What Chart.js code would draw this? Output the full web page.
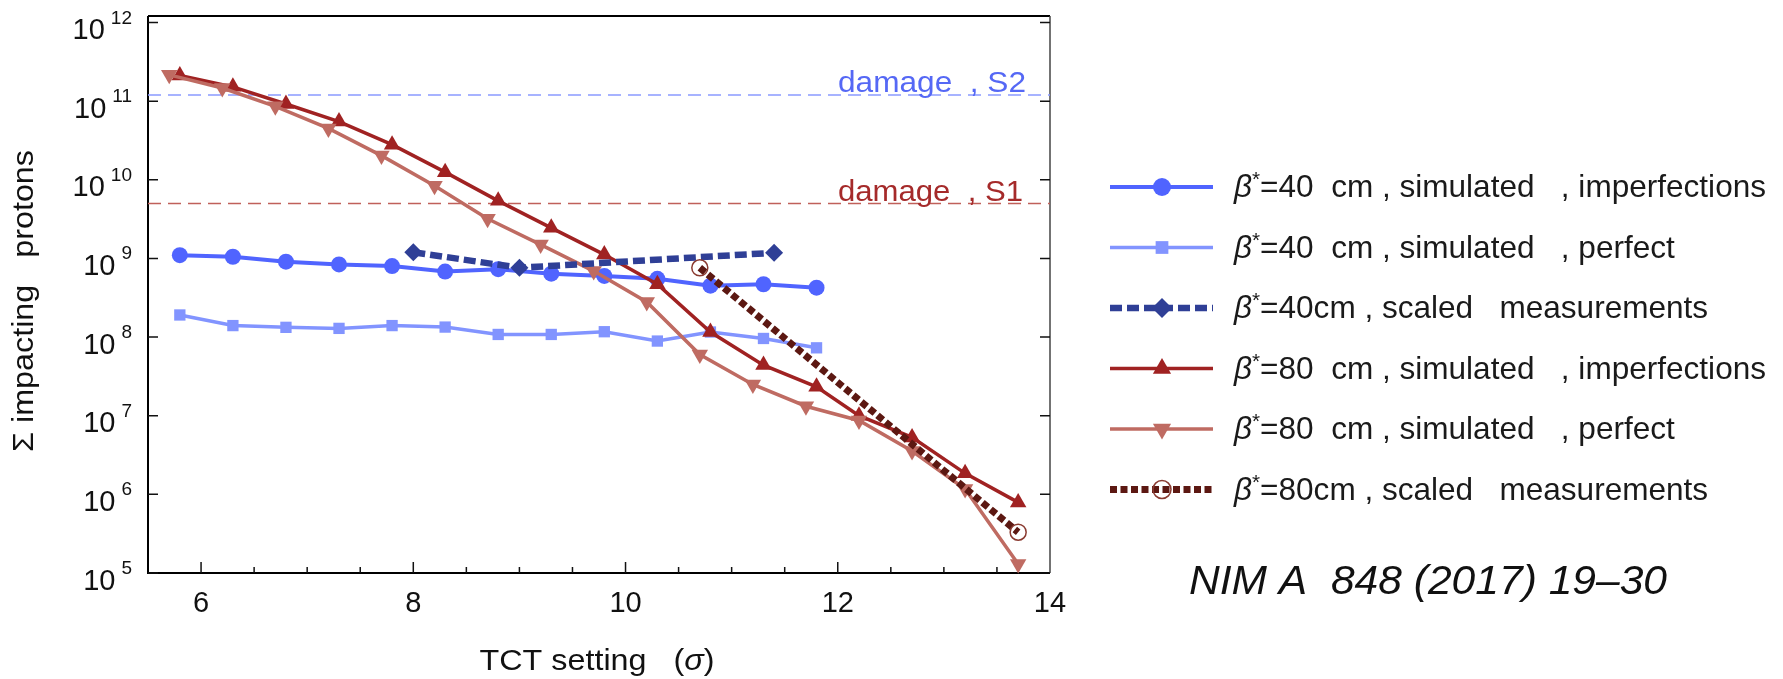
<!DOCTYPE html>
<html>
<head>
<meta charset="utf-8">
<script src="https://cdn.jsdelivr.net/npm/chart.js@4.4.1/dist/chart.umd.min.js"></script>
<style>
  html, body { margin: 0; padding: 0; background: #fff; }
</style>
</head>
<body>
<canvas id="chartTct" width="1783" height="679"></canvas>
<script>
/* global Chart */

// dados (eixo x = TCT setting em sigma)
const xSim40 = [5.8, 6.3, 6.8, 7.3, 7.8, 8.3, 8.8, 9.3, 9.8, 10.3, 10.8, 11.3, 11.8];
const b40Imperf = [1.10e9, 1.05e9, 9.1e8, 8.4e8, 8.0e8, 6.8e8, 7.3e8, 6.4e8, 6.0e8, 5.5e8, 4.5e8, 4.7e8, 4.25e8];
const b40Perfect = [1.91e8, 1.40e8, 1.33e8, 1.29e8, 1.40e8, 1.34e8, 1.08e8, 1.08e8, 1.17e8, 8.9e7, 1.16e8, 9.6e7, 7.3e7];

const xMeas40 = [8.0, 9.0, 11.4];
const meas40 = [1.2e9, 7.6e8, 1.18e9];

const xSim80i = [5.8, 6.3, 6.8, 7.3, 7.8, 8.3, 8.8, 9.3, 9.8, 10.3, 10.8, 11.3, 11.8, 12.2, 12.7, 13.2, 13.7];
const b80Imperf = [2.12e11, 1.52e11, 9.2e10, 5.5e10, 2.8e10, 1.25e10, 5.4e9, 2.45e9, 1.12e9, 4.7e8, 1.16e8, 4.4e7, 2.33e7, 1.0e7, 5.3e6, 1.85e6, 7.9e5];

const xSim80p = [5.7, 6.2, 6.7, 7.2, 7.7, 8.2, 8.7, 9.2, 9.7, 10.2, 10.7, 11.2, 11.7, 12.2, 12.7, 13.2, 13.7];
const b80Perfect = [2.16e11, 1.47e11, 8.6e10, 4.5e10, 2.03e10, 8.4e9, 3.2e9, 1.5e9, 6.9e8, 2.8e8, 6.0e7, 2.5e7, 1.32e7, 8.7e6, 3.55e6, 1.17e6, 1.3e5];

const xMeas80 = [10.7, 13.7];
const meas80 = [7.6e8, 3.3e5];

const damageS2 = 1.2e11;
const damageS1 = 5.0e9;

const xTicks = [6, 8, 10, 12, 14];
const yExpoentes = [5, 6, 7, 8, 9, 10, 11, 12];

const legendaBeta = ["40", "40", "40", "80", "80", "80"];
const legendaResto = [
  "  cm , simulated   , imperfections",
  "  cm , simulated   , perfect",
  "cm , scaled   measurements",
  "  cm , simulated   , imperfections",
  "  cm , simulated   , perfect",
  "cm , scaled   measurements"
];

const FONTE = "'Liberation Sans', Arial, sans-serif";

function pares(xs, ys) {
  return xs.map(function (x, i) { return { x: x, y: ys[i] }; });
}

function textoAjustado(ctx, partes, x, y, largura, align) {
  // desenha pedaços de texto e comprime/estica para caber na largura
  var total = 0;
  partes.forEach(function (p) {
    ctx.font = p.font;
    p.w = ctx.measureText(p.t).width + (p.gap || 0);
    total += p.w;
  });
  var k = largura ? largura / total : 1;
  ctx.save();
  ctx.translate(x - (align === "center" ? largura / 2 : 0), y);
  ctx.scale(k, 1);
  ctx.textAlign = "left";
  ctx.textBaseline = "alphabetic";
  var cx = 0;
  partes.forEach(function (p) {
    ctx.font = p.font;
    if (p.color) ctx.fillStyle = p.color;
    ctx.fillText(p.t, cx + (p.gap || 0), p.dy || 0);
    cx += p.w;
  });
  ctx.restore();
  return k;
}

const estilos = [
  { cor: "#5064ff", largura: 4, dash: [], ponto: "circle", raio: 8, rot: 0, fundo: "#5064ff", borda: "#5064ff", bw: 0 },
  { cor: "#8294ff", largura: 3.5, dash: [], ponto: "rect", raio: 8, rot: 0, fundo: "#8294ff", borda: "#8294ff", bw: 0 },
  { cor: "#2f3f96", largura: 6.5, dash: [12, 5], ponto: "rectRot", raio: 9, rot: 0, fundo: "#2f3f96", borda: "#2f3f96", bw: 0 },
  { cor: "#a02222", largura: 3.5, dash: [], ponto: "triangle", raio: 9.5, rot: 0, fundo: "#a02222", borda: "#a02222", bw: 0 },
  { cor: "#bf6b62", largura: 3.5, dash: [], ponto: "triangle", raio: 9.5, rot: 180, fundo: "#bf6b62", borda: "#bf6b62", bw: 0 },
  { cor: "#5c1812", largura: 7, dash: [7, 3.5], ponto: "circle", raio: 8, rot: 0, fundo: "rgba(0,0,0,0)", borda: "#8a3a30", bw: 1.5 }
];

const series = [
  pares(xSim40, b40Imperf),
  pares(xSim40, b40Perfect),
  pares(xMeas40, meas40),
  pares(xSim80i, b80Imperf),
  pares(xSim80p, b80Perfect),
  pares(xMeas80, meas80)
];
const ordens = [4, 5, 1, 3, 2, 0];

var datasets = series.map(function (dados, i) {
  var e = estilos[i];
  return {
    data: dados,
    borderColor: e.cor,
    borderWidth: e.largura,
    borderDash: e.dash,
    borderCapStyle: "butt",
    pointStyle: e.ponto,
    pointRadius: e.raio,
    pointRotation: e.rot,
    pointBackgroundColor: e.fundo,
    pointBorderColor: e.borda,
    pointBorderWidth: e.bw,
    tension: 0,
    clip: false,
    order: ordens[i]
  };
});

datasets.push({
  data: [{ x: 5.5, y: damageS2 }, { x: 14, y: damageS2 }],
  borderColor: "#8a9aff", borderWidth: 1.5, borderDash: [13, 7], pointRadius: 0, order: 9
});
datasets.push({
  data: [{ x: 5.5, y: damageS1 }, { x: 14, y: damageS1 }],
  borderColor: "#c0605a", borderWidth: 1.5, borderDash: [13, 7], pointRadius: 0, order: 9
});

const moldura = {
  id: "moldura",
  beforeDatasetsDraw: function (chart) {
    var ctx = chart.ctx, a = chart.chartArea, sx = chart.scales.x, sy = chart.scales.y;
    ctx.save();
    ctx.strokeStyle = "#000";
    ctx.lineWidth = 2;
    ctx.beginPath();
    ctx.moveTo(a.left, a.top); ctx.lineTo(a.right, a.top);
    ctx.moveTo(a.left, a.top); ctx.lineTo(a.left, a.bottom); ctx.lineTo(a.right, a.bottom);
    ctx.stroke();
    ctx.strokeStyle = "#444";
    ctx.lineWidth = 1.5;
    ctx.beginPath(); ctx.moveTo(a.right, a.top); ctx.lineTo(a.right, a.bottom); ctx.stroke();

    ctx.strokeStyle = "#111";
    ctx.lineWidth = 1.5;
    yExpoentes.forEach(function (p) {
      var py = sy.getPixelForValue(Math.pow(10, p));
      ctx.beginPath();
      ctx.moveTo(a.left, py); ctx.lineTo(a.left + 10, py);
      ctx.moveTo(a.right - 10, py); ctx.lineTo(a.right, py);
      ctx.stroke();
    });
    for (var v = 6; v < 14; v += 0.5) {
      var px = sx.getPixelForValue(v);
      var len = (v % 2 === 0) ? 11 : 6;
      ctx.beginPath(); ctx.moveTo(px, a.bottom); ctx.lineTo(px, a.bottom - len); ctx.stroke();
    }
    ctx.restore();
  },
  afterDraw: function (chart) {
    var ctx = chart.ctx, sy = chart.scales.y;
    ctx.save();
    ctx.fillStyle = "#111";

    // rótulos 10^n do eixo y
    yExpoentes.forEach(function (p) {
      var py = sy.getPixelForValue(Math.pow(10, p));
      ctx.textAlign = "left";
      ctx.textBaseline = "alphabetic";
      ctx.font = "19px " + FONTE;
      var e = String(p);
      var ew = ctx.measureText(e).width;
      ctx.fillText(e, 132 - ew, py + 1);
      ctx.font = "29px " + FONTE;
      var bw = ctx.measureText("10").width;
      ctx.fillText("10", 132 - ew - 6 - bw, py + 16.5);
    });

    // títulos dos eixos
    textoAjustado(ctx, [
      { t: "TCT setting   (", font: "30px " + FONTE },
      { t: "σ", font: "italic 30px " + FONTE },
      { t: ")", font: "30px " + FONTE }
    ], 597, 670, 235, "center");

    ctx.save();
    ctx.translate(33, 301);
    ctx.rotate(-Math.PI / 2);
    textoAjustado(ctx, [{ t: "Σ impacting   protons", font: "30px " + FONTE }], 0, 0, 302, "center");
    ctx.restore();

    // linhas de dano
    textoAjustado(ctx, [{ t: "damage  , S2", font: "30px " + FONTE, color: "#5568f5" }], 838, 92, 188);
    textoAjustado(ctx, [{ t: "damage  , S1", font: "30px " + FONTE, color: "#a52a2a" }], 838, 201, 185);

    // legenda
    var k = null;
    for (var i = 0; i < estilos.length; i++) {
      var e = estilos[i];
      var ly = 187 + i * 60.5;
      ctx.save();
      ctx.strokeStyle = e.cor;
      ctx.lineWidth = e.largura;
      ctx.setLineDash(e.dash);
      ctx.beginPath(); ctx.moveTo(1110, ly); ctx.lineTo(1213, ly); ctx.stroke();
      ctx.setLineDash([]);
      ctx.fillStyle = e.fundo;
      ctx.strokeStyle = e.borda;
      ctx.lineWidth = e.bw;
      Chart.helpers.drawPoint(ctx, {
        pointStyle: e.ponto, radius: e.raio + 1, rotation: e.rot, borderWidth: e.bw
      }, 1162, ly);
      ctx.restore();

      ctx.fillStyle = "#1a1a1a";
      var partes = [
        { t: "β", font: "italic 32px " + FONTE },
        { t: "*", font: "21px " + FONTE, dy: -11 },
        { t: "=" + legendaBeta[i] + legendaResto[i], font: "32px " + FONTE }
      ];
      if (k === null) {
        k = textoAjustado(ctx, partes, 1234, ly + 10, 532);
      } else {
        var tot = 0;
        partes.forEach(function (p) { ctx.font = p.font; tot += ctx.measureText(p.t).width; });
        textoAjustado(ctx, partes, 1234, ly + 10, tot * k);
      }
    }

    // referência
    ctx.fillStyle = "#111";
    textoAjustado(ctx, [{ t: "NIM A  848 (2017) 19–30", font: "italic 41px " + FONTE }], 1189, 594, 478);

    ctx.restore();
  }
};

document.addEventListener("DOMContentLoaded", function () {
  if (typeof Chart === "undefined") {
    console.error("Chart.js não carregou");
    return;
  }
  var ctx = document.getElementById("chartTct").getContext("2d");
  new Chart(ctx, {
    type: "line",
    data: { datasets: datasets },
    options: {
      responsive: false,
      animation: false,
      layout: { padding: { top: 16, right: 733, left: 0, bottom: 0 } },
      plugins: { legend: { display: false }, tooltip: { enabled: false } },
      scales: {
        x: {
          type: "linear",
          min: 5.5,
          max: 14,
          afterBuildTicks: function (s) {
            s.ticks = xTicks.map(function (v) { return { value: v }; });
          },
          afterFit: function (s) { s.height = 106; },
          ticks: {
            font: { family: FONTE, size: 29 },
            color: "#111",
            padding: 14,
            maxRotation: 0,
            autoSkip: false
          },
          grid: { display: false, drawTicks: false },
          border: { display: false }
        },
        y: {
          type: "logarithmic",
          min: 1e5,
          max: 1.21e12,
          afterFit: function (s) { s.width = 148; },
          ticks: { display: false },
          grid: { display: false, drawTicks: false },
          border: { display: false }
        }
      }
    },
    plugins: [moldura]
  });
});
</script>
</body>
</html>
